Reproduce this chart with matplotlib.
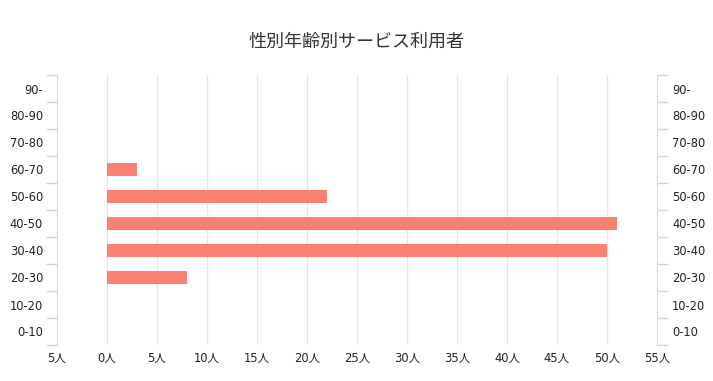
import matplotlib
matplotlib.use("Agg")
import matplotlib.pyplot as plt
import numpy as np

plt.rcParams['font.family'] = ['Noto Sans CJK JP', 'DejaVu Sans']

categories = ["0-10", "10-20", "20-30", "30-40", "40-50", "50-60", "60-70", "70-80", "80-90", "90-"]
values = [0, 0, 8, 50, 51, 22, 3, 0, 0, 0]
x_ticks = [-5, 0, 5, 10, 15, 20, 25, 30, 35, 40, 45, 50, 55]
x_labels = [f"{abs(v)}人" for v in x_ticks]
title = "性別年齢別サービス利用者"

W, H = 713, 381
fig = plt.figure(figsize=(W / 100, H / 100), dpi=100)
ax = fig.add_axes([57 / W, 1 - 345 / H, (657 - 57) / W, (345 - 75) / H])

lab_font = dict(family=['DejaVu Sans', 'Noto Sans CJK JP'], size=8.3)
lab_col = "#222222"

y = np.arange(len(categories))
ax.barh(y, values, height=0.45, color="#FA8072", zorder=3)

ax.set_xlim(-5, 55)
ax.set_ylim(-0.5, len(categories) - 0.5)

ax.set_xticks(x_ticks)
ax.set_xticklabels(x_labels, color=lab_col, fontdict=lab_font)
ax.tick_params(axis='x', length=0, pad=5)
for v in x_ticks:
    if -5 < v < 55:
        ax.axvline(v, color="#e6e6e6", lw=1, zorder=1)

axis_col = "#cfd6de"
for s in ["top", "bottom"]:
    ax.spines[s].set_visible(False)
ax.spines["left"].set_color(axis_col)
ax.spines["right"].set_visible(False)

ax.set_yticks(y)
ax.set_yticklabels(categories, color=lab_col, fontdict=lab_font)
ax.set_yticks(np.arange(-0.5, len(categories), 1), minor=True)
ax.tick_params(axis='y', which='major', length=0, pad=10)
ax.tick_params(axis='y', which='minor', length=8, color=axis_col, width=1)

ax2 = ax.twinx()
ax2.set_ylim(ax.get_ylim())
ax2.set_yticks(y)
ax2.set_yticklabels(categories, color=lab_col, fontdict=lab_font)
ax2.set_yticks(np.arange(-0.5, len(categories), 1), minor=True)
ax2.tick_params(axis='y', which='major', length=0, pad=11)
ax2.tick_params(axis='y', which='minor', length=8, color=axis_col, width=1)
for s in ["top", "bottom", "left"]:
    ax2.spines[s].set_visible(False)
ax2.spines["right"].set_color(axis_col)

fig.text(0.5, 1 - 42 / H, title, ha="center", va="center", fontsize=13, color="#333333")

fig.savefig("out.png", dpi=100)
